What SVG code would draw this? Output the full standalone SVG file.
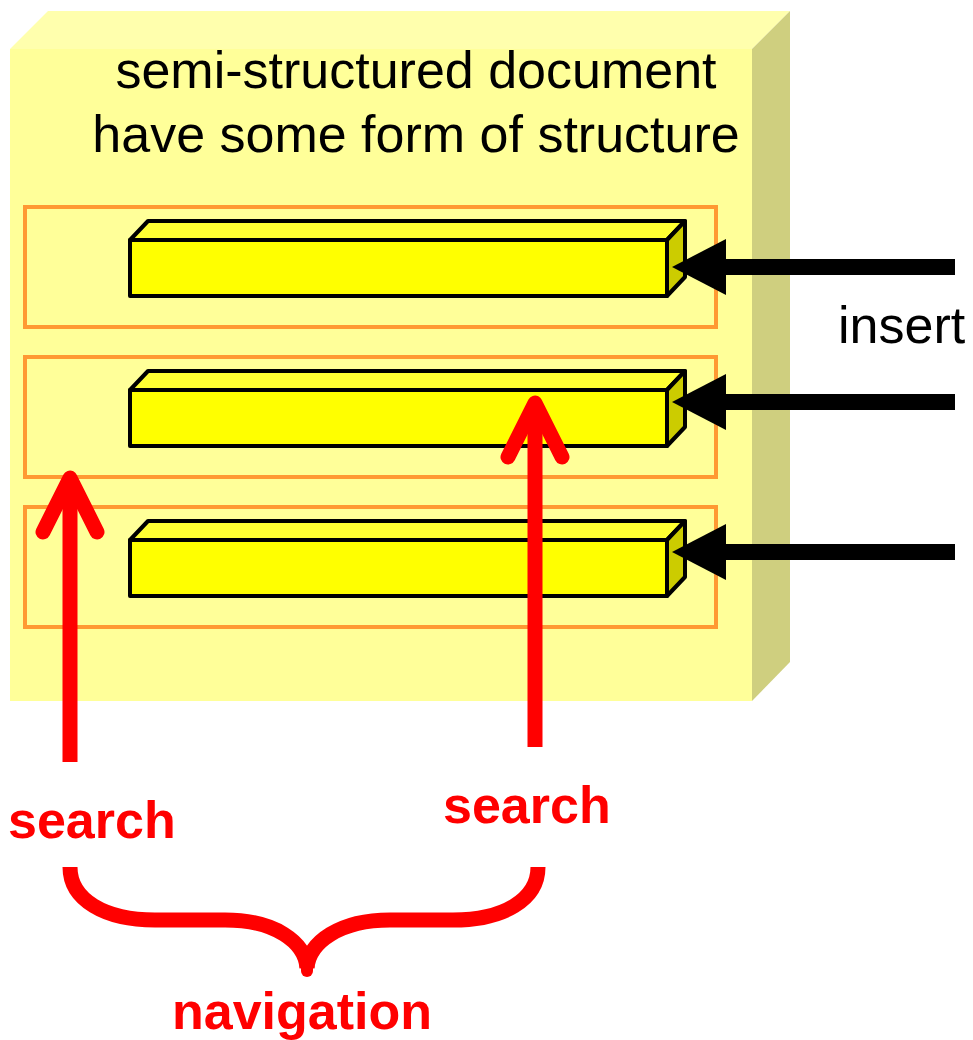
<svg xmlns="http://www.w3.org/2000/svg" width="973" height="1040" viewBox="0 0 973 1040">
<style>
.title{font-family:"Liberation Sans",Arial,sans-serif;font-size:52px;fill:#000}
.red{font-family:"Liberation Sans",Arial,sans-serif;font-size:52px;font-weight:bold;fill:#FF0000}
.frame{fill:none;stroke:#FF9933;stroke-width:4}
.bar{stroke:#000;stroke-width:4;stroke-linejoin:round}
.bfront{fill:#FFFF00}
.btop{fill:#FFFF33}
.bside{fill:#CCCC00}
.ins{stroke:#000;stroke-width:16;fill:none}
.head{fill:#000}
.rarrow{stroke:#FF0000;stroke-width:15;fill:none;stroke-linecap:round;stroke-linejoin:round}
</style>
<defs>
<g id="barShape">
<polygon class="bar btop" points="130,240 148,221 685,221 667,240"/>
<polygon class="bar bside" points="667,240 685,221 685,277 667,296"/>
<rect class="bar bfront" x="130" y="240" width="537" height="56"/>
</g>
</defs>
<g id="document">
<polygon points="10,49 48,11 790,11 752,49" fill="#FFFFAD"/>
<polygon points="752,49 790,11 790,662 752,701" fill="#CFCF7F"/>
<rect x="10" y="49" width="742" height="652" fill="#FFFF99"/>
<text class="title" x="416" y="88" text-anchor="middle">semi-structured document</text>
<text class="title" x="416" y="152" text-anchor="middle">have some form of structure</text>
</g>
<g id="part1">
<rect class="frame" x="25" y="207" width="691" height="120"/>
<use href="#barShape"/>
</g>
<g id="part2">
<rect class="frame" x="25" y="357" width="691" height="120"/>
<use href="#barShape" transform="translate(0,150)"/>
</g>
<g id="part3">
<rect class="frame" x="25" y="507" width="691" height="120"/>
<use href="#barShape" transform="translate(0,300)"/>
</g>
<g id="connectors">
<line class="ins" x1="955" y1="267" x2="720" y2="267"/>
<polygon class="head" points="672,267 726,239 726,295"/>
<line class="ins" x1="955" y1="402" x2="720" y2="402"/>
<polygon class="head" points="672,402 726,374 726,430"/>
<line class="ins" x1="955" y1="552" x2="720" y2="552"/>
<polygon class="head" points="672,552 726,524 726,580"/>
<line class="rarrow" x1="70" y1="762" x2="70" y2="482" style="stroke-linecap:butt"/>
<polyline class="rarrow" points="43,532 70,478 97,532"/>
<line class="rarrow" x1="535" y1="747" x2="535" y2="407" style="stroke-linecap:butt"/>
<polyline class="rarrow" points="508,457 535,403 562,457"/>
<path d="M70,867 C70,900 105,920 155,920 L225,920 C275,920 305,942 307,968" fill="none" stroke="#FF0000" stroke-width="15"/>
<path d="M538,867 C538,900 503,920 453,920 L390,920 C340,920 309,942 307,968" fill="none" stroke="#FF0000" stroke-width="15"/>
<line x1="307" y1="955" x2="307" y2="971" stroke="#FF0000" stroke-width="12" stroke-linecap="round"/>
</g>
<g id="labels">
<text class="title" x="838" y="343">insert</text>
<text class="red" x="8" y="838">search</text>
<text class="red" x="443" y="823">search</text>
<text class="red" x="302" y="1029" text-anchor="middle">navigation</text>
</g>
</svg>
